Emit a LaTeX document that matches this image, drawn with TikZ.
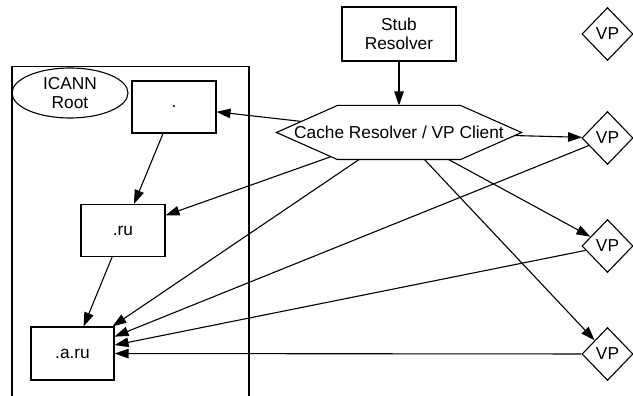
\documentclass[tikz,border=0pt]{standalone}
\usepackage{fontspec}
\setmainfont{Liberation Sans}
\usetikzlibrary{arrows.meta,shapes.geometric}
\pgfdeclarelayer{edges}
\pgfsetlayers{edges,main}
\begin{document}
\begin{tikzpicture}[x=1pt,y=-1pt,
  every node/.style={font=\fontsize{17.3}{18.5}\selectfont, align=center, line width=1.1pt},
  box/.style={draw, rectangle, minimum width=84pt, minimum height=52pt, inner sep=0pt},
  vp/.style={draw, fill=white, diamond, minimum width=51pt, minimum height=53pt, inner sep=0pt},
  arr/.style={line width=1.1pt, -{Triangle[length=14pt,width=9.5pt]}},
  plain/.style={line width=1.1pt}]
\useasboundingbox (0,0) rectangle (633,396);
% zone container
\draw[plain] (12,397) -- (12,66.5) -- (249,66.5) -- (249,397);
\node[draw, ellipse, minimum width=116pt, minimum height=50pt, inner sep=0pt] (icann) at (70,93) {ICANN\\Root};
\node[box] (root) at (174,107) {.};
\node[box] (ru) at (123,230.5) {.ru};
\node[box, minimum width=83pt, minimum height=53pt] (aru) at (72.5,353.5) {.a.ru};
\node[box, minimum width=114pt, minimum height=54pt] (stub) at (399,34) {Stub\\Resolver};
\node[rectangle, minimum width=244pt, minimum height=53pt, inner sep=0pt] (hex) at (399,132.5) {Cache Resolver / VP Client};
\node[vp] (vp1) at (607.5,34) {VP};
\node[vp] (vp2) at (607.5,138) {VP};
\node[vp] (vp3) at (607.5,246) {VP};
\node[vp] (vp4) at (607.5,354) {VP};
\begin{pgfonlayer}{edges}
% connectors leaving the hexagon start at its centre; the hexagon's white fill hides the inner part
\draw[arr] (hex.center) -- (root);
\draw[arr] (hex.center) -- (ru);
\draw[arr] (hex.center) -- (aru);
\draw[arr] (hex.center) -- (vp2);
\draw[arr] (hex.center) -- (vp3);
\draw[arr] (hex.center) -- (vp4);
\draw[plain, fill=white] (hex.west) -- ([xshift=61pt]hex.north west) -- ([xshift=-61pt]hex.north east)
  -- (hex.east) -- ([xshift=-61pt]hex.south east) -- ([xshift=61pt]hex.south west) -- cycle;
\end{pgfonlayer}
\draw[arr] (stub) -- (hex);
\draw[arr] (root) -- (ru);
\draw[arr] (ru) -- (aru);
\draw[arr] (vp2) -- (aru);
\draw[arr] (vp3) -- (aru);
\draw[arr] (vp4) -- (aru);
\end{tikzpicture}
\end{document}
